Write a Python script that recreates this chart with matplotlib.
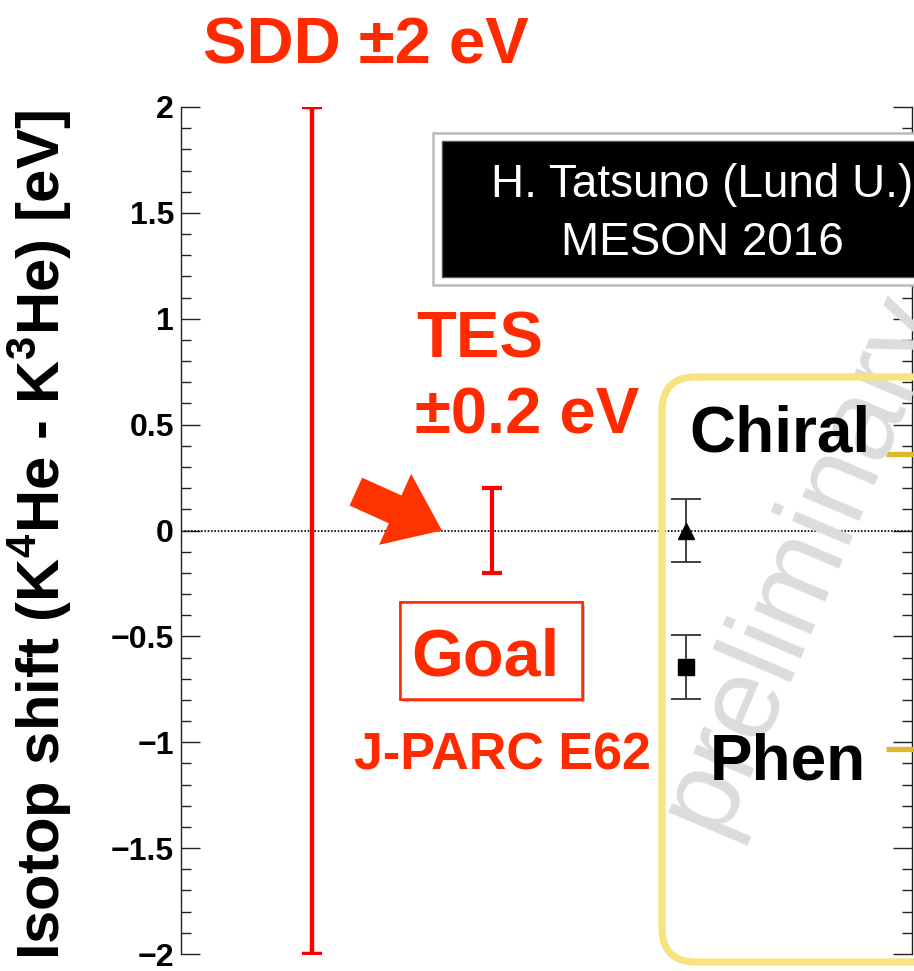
import matplotlib
matplotlib.use("Agg")
import matplotlib.pyplot as plt
from matplotlib.patches import FancyBboxPatch, Rectangle
from matplotlib.transforms import Affine2D
from matplotlib.ticker import MultipleLocator, FixedLocator, FixedFormatter
import matplotlib.patheffects as pe

plt.rcParams['font.family'] = ['Liberation Sans', 'DejaVu Sans']
plt.rcParams['mathtext.fontset'] = 'custom'
plt.rcParams['mathtext.bf'] = 'Liberation Sans:bold'
plt.rcParams['mathtext.rm'] = 'Liberation Sans'

# ---------------- data ----------------
y_ticks = [-2, -1.5, -1, -0.5, 0, 0.5, 1, 1.5, 2]
y_tick_labels = ["\u22122", "\u22121.5", "\u22121", "\u22120.5", "0", "0.5", "1", "1.5", "2"]

sdd_x = [0.179]
sdd_value = [0.0]
sdd_err = [2.0]

tes_x = [0.425]
tes_value = [0.0]
tes_err = [0.2]

calc_x = [0.691, 0.691]
calc_values = [0.0, -0.645]
calc_errs = [0.15, 0.15]
calc_markers = ['^', 's']

theory_labels = ["Chiral", "Phen"]
theory_values = [0.36, -1.03]

W, H = 914, 971
fig = plt.figure(figsize=(W / 100, H / 100), dpi=100)
px = Affine2D().scale(1 / W, -1 / H).translate(0, 1) + fig.transFigure

ax = fig.add_axes([181 / W, 17 / H, 731 / W, 847 / H])
ax.set_xlim(0, 1)
ax.set_ylim(-2, 2)
for s in ['top', 'bottom']:
    ax.spines[s].set_visible(False)
for s in ['left', 'right']:
    ax.spines[s].set_color('#222222')
    ax.spines[s].set_linewidth(1.0)
ax.tick_params(axis='x', bottom=False, labelbottom=False)
ax.yaxis.set_major_locator(FixedLocator(y_ticks))
ax.yaxis.set_major_formatter(FixedFormatter(y_tick_labels))
ax.yaxis.set_minor_locator(MultipleLocator(0.1))
ax.tick_params(axis='y', which='major', direction='in', left=True, right=True,
               length=13.7, width=1.0, color='#222222', labelsize=23, pad=5)
ax.tick_params(axis='y', which='minor', direction='in', left=True, right=True,
               length=7.5, width=1.0, color='#222222')
for lbl in ax.get_yticklabels():
    lbl.set_fontweight('bold')

# zero line
ax.axhline(0, color='black', ls=(0, (1, 1)), lw=1.2, zorder=2)

# watermark
fig.text(802, 562, "preliminary", transform=px, rotation=67, fontsize=84,
         color='#DCDCDC', ha='center', va='center', rotation_mode='anchor', zorder=0)

# yellow rounded box
ybox = FancyBboxPatch((662, 377), 420, 585, boxstyle="round,pad=0,rounding_size=34",
                      transform=px, facecolor='none', edgecolor='#F7E380', lw=5.2,
                      zorder=1)
fig.patches.append(ybox)

# error bars
ax.errorbar(sdd_x, sdd_value, yerr=sdd_err, fmt='none', ecolor='#FF0000',
            elinewidth=3.2, capsize=7.2, capthick=3.2, zorder=3)
ax.errorbar(tes_x, tes_value, yerr=tes_err, fmt='none', ecolor='#FF0000',
            elinewidth=3.0, capsize=7.5, capthick=3.0, zorder=3)
for xv, yv, ev, mk in zip(calc_x, calc_values, calc_errs, calc_markers):
    ax.errorbar([xv], [yv], yerr=[ev], fmt=mk, color='black', ecolor='#333333',
                elinewidth=1.3, capsize=11, capthick=1.3, markersize=12, zorder=4)

# theory dashes at the right edge
for tv in theory_values:
    ax.plot([0.9645, 1.05], [tv, tv], color='#DDB82A', lw=3.8, clip_on=False,
            solid_capstyle='butt', zorder=5)

# arrow pointing at zero
ax.annotate("", xy=(0.357, 0), xycoords='data',
            xytext=(-62, 28), textcoords='offset points',
            arrowprops=dict(arrowstyle="simple,head_length=37,head_width=56,tail_width=22",
                            mutation_scale=1, color='#FF3300', shrinkA=0, shrinkB=0,
                            lw=0), zorder=6)

red = '#FF2A00'
fig.text(203, 63, "SDD \u00b12 eV", transform=px, fontsize=47, fontweight='bold',
         color=red, ha='left', va='baseline')
fig.text(416, 358, "TES", transform=px, fontsize=47, fontweight='bold',
         color=red, ha='left', va='baseline')
fig.text(415, 433, "\u00b10.2 eV", transform=px, fontsize=47, fontweight='bold',
         color=red, ha='left', va='baseline')
fig.text(354, 770, "J-PARC E62", transform=px, fontsize=37.5, fontweight='bold',
         color=red, ha='left', va='baseline')

# Goal box
gbox = Rectangle((400, 602), 182, 97, transform=px, facecolor='white',
                 edgecolor=red, lw=1.8, zorder=5)
gbox.set_path_effects([pe.withSimplePatchShadow(offset=(2.5, -2.5),
                                                shadow_rgbFace='#777777', alpha=0.5),
                       pe.Normal()])
fig.patches.append(gbox)
fig.text(485, 675, "Goal", transform=px, fontsize=48, fontweight='bold',
         color=red, ha='center', va='baseline', zorder=6)

# theory labels
fig.text(689, 452, theory_labels[0], transform=px, fontsize=46, fontweight='bold',
         color='black', ha='left', va='baseline', zorder=6)
fig.text(710, 779, theory_labels[1], transform=px, fontsize=46, fontweight='bold',
         color='black', ha='left', va='baseline', zorder=6)

# author box
outer = Rectangle((433, 133), 560, 152, transform=px, facecolor='white',
                  edgecolor='#BBBBBB', lw=1.8, zorder=5)
inner = Rectangle((442, 141), 540, 136, transform=px, facecolor='black',
                  edgecolor='#555555', lw=1.0, zorder=6)
fig.patches.append(outer)
fig.patches.append(inner)
fig.text(702, 197, "H. Tatsuno (Lund U.)", transform=px, fontsize=33,
         color='white', ha='center', va='baseline', zorder=7)
fig.text(702, 255, "MESON 2016", transform=px, fontsize=33,
         color='white', ha='center', va='baseline', zorder=7)

# y label
fig.text(40, 535, r"Isotop shift (K$^{\mathbf{4}}$He - K$^{\mathbf{3}}$He) [eV]",
         transform=px, rotation=90, fontsize=43, fontweight='bold',
         ha='center', va='center', color='black')

fig.savefig("out.png", dpi=100)
